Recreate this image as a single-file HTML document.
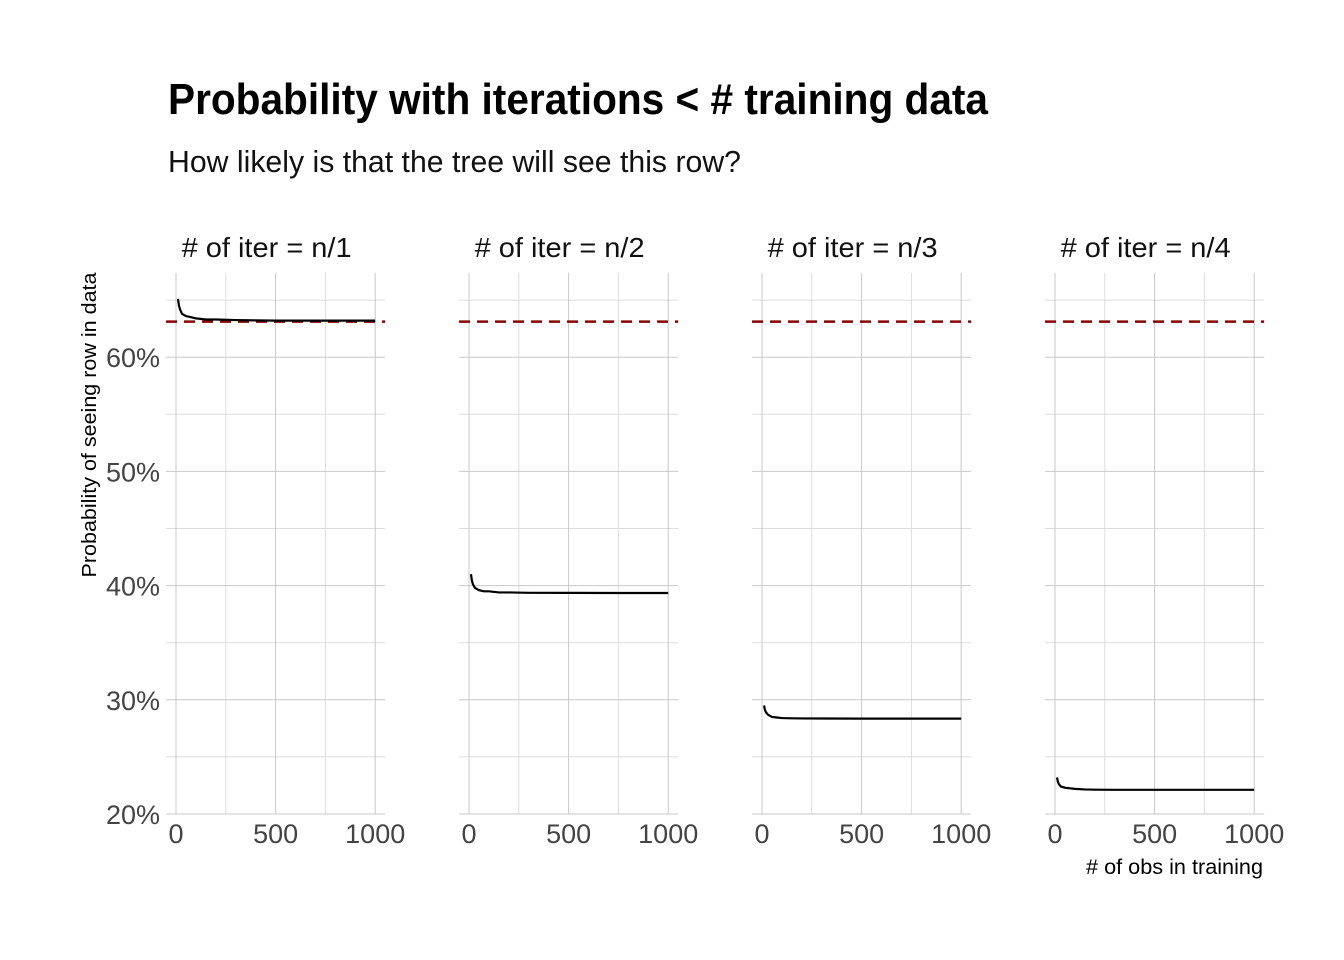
<!DOCTYPE html>
<html><head><meta charset="utf-8"><style>
body{margin:0;background:#fff}
svg{display:block;font-family:"Liberation Sans",sans-serif}
</style></head><body>
<svg id="chart" width="1344" height="960" viewBox="0 0 1344 960">
<rect width="1344" height="960" fill="#fff"/>
<text x="168" y="114" font-size="44" font-weight="bold" textLength="820" lengthAdjust="spacingAndGlyphs">Probability with iterations &lt; # training data</text>
<text x="168" y="172" font-size="31" fill="#111" textLength="573" lengthAdjust="spacingAndGlyphs">How likely is that the tree will see this row?</text>
<text transform="translate(96,425) rotate(-90)" text-anchor="middle" font-size="20" textLength="305" lengthAdjust="spacingAndGlyphs">Probability of seeing row in data</text>
<text x="1263" y="874" text-anchor="end" font-size="21" textLength="177" lengthAdjust="spacingAndGlyphs"># of obs in training</text>
<g id="panels"></g>
</svg>
<script>
const facets = ["# of iter = n/1","# of iter = n/2","# of iter = n/3","# of iter = n/4"];
const nObs = [10,15,20,30,40,50,75,100,150,200,300,500,750,1000];
const probK1 = [65.1,64.5,64.2,63.8,63.7,63.6,63.5,63.4,63.3,63.3,63.25,63.2,63.2,63.2];
const probK2 = [41.0,40.4,40.1,39.8,39.7,39.6,39.5,39.5,39.4,39.4,39.37,39.36,39.35,39.35];
const probK3 = [29.5,29.1,28.9,28.7,28.6,28.5,28.45,28.4,28.38,28.37,28.36,28.35,28.35,28.35];
const probK4 = [23.2,22.8,22.6,22.4,22.35,22.3,22.25,22.2,22.15,22.13,22.12,22.12,22.12,22.12];
const series = [probK1,probK2,probK3,probK4];
const refLine = 63.2;
const xTicks = [0,500,1000];
const yTicks = [20,30,40,50,60];
const yTickLabels = ["20%","30%","40%","50%","60%"];
const ns="http://www.w3.org/2000/svg";
const g=document.getElementById('panels');
const panelX0=[176,469,762,1055];
const xs=(p,v)=>panelX0[p]+v*0.1992;
const ys=v=>814-(v-20)*11.42;
function mk(t,a,parent){const e=document.createElementNS(ns,t);for(const k in a)e.setAttribute(k,a[k]);(parent||g).appendChild(e);return e;}
for(let p=0;p<4;p++){
  const grp=mk('g',{});
  
  
  const L=xs(p,-50),R=xs(p,1050),T=ys(67.4),B=ys(20);
  for(let v=25;v<=65;v+=10){const l=mk('line',{x1:L,x2:R,y1:ys(v),y2:ys(v),stroke:'#ddd','stroke-width':1},grp);}
  for(const v of [250,750]){const l=mk('line',{x1:xs(p,v),x2:xs(p,v),y1:T,y2:B,stroke:'#ddd','stroke-width':1},grp);}
  for(const v of yTicks){const l=mk('line',{x1:L,x2:R,y1:ys(v),y2:ys(v),stroke:'#c8c8c8','stroke-width':1},grp);}
  for(const v of xTicks){const l=mk('line',{x1:xs(p,v),x2:xs(p,v),y1:T,y2:B,stroke:'#c8c8c8','stroke-width':1},grp);
    const t=mk('text',{x:xs(p,v),y:843,'text-anchor':'middle','font-size':27,fill:'#444'},grp);t.textContent=v;}
  const st=mk('text',{x:xs(p,500)-9,y:257,'text-anchor':'middle','font-size':28,fill:'#111',textLength:170,lengthAdjust:'spacingAndGlyphs'},grp);st.textContent=facets[p];
  
  const d=mk('line',{x1:L,x2:R,y1:ys(refLine)+1,y2:ys(refLine)+1,stroke:'#8b0000','stroke-width':2.5,'stroke-dasharray':'11,7'},grp);
  
  const pts=nObs.map((n,i)=>xs(p,n)+','+ys(series[p][i])).join(' ');
  const pl=mk('polyline',{points:pts,fill:'none',stroke:'#000','stroke-width':2.2,'stroke-linejoin':'round'},grp);
  
}
yTicks.forEach((v,i)=>{const t=mk('text',{x:160,y:ys(v)+10,'text-anchor':'end','font-size':27,fill:'#444'});t.textContent=yTickLabels[i];
  });
</script>
</body></html>
